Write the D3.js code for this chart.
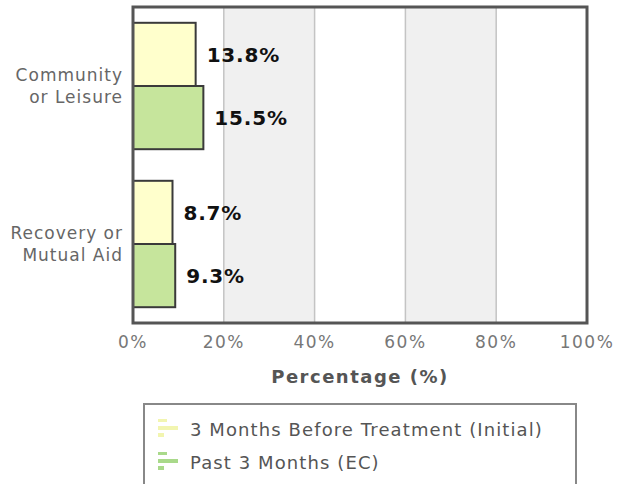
<!DOCTYPE html>
<html><head><meta charset="utf-8">
<script src="https://cdn.jsdelivr.net/npm/d3@7"></script>
<style>
html,body{margin:0;padding:0;background:#fff;}
svg{display:block;font-family:"DejaVu Sans",Verdana,sans-serif;}
</style></head>
<body><svg id="c" width="618" height="484"></svg>
<script>
const categories = [["Community","or Leisure"],["Recovery or","Mutual Aid"]];
const categoryKeys = ["Community or Leisure","Recovery or Mutual Aid"];
const seriesNames = ["3 Months Before Treatment (Initial)","Past 3 Months (EC)"];
const initialValues = [13.8, 8.7];
const ecValues = [15.5, 9.3];
const seriesColors = ["#ffffcc","#c6e59c"];
const iconColors = ["#f2f5b0","#a9d98a"];
const xTicks = [0,20,40,60,80,100];

const svg = d3.select("#c");
const m = {l:133, r:587, t:7, b:323};
const x = d3.scaleLinear().domain([0,100]).range([m.l, m.r]);
const y = d3.scaleBand().domain(categoryKeys).range([m.t, m.b]).paddingInner(0.2).paddingOuter(0.1);
const ySub = d3.scaleBand().domain([0,1]).range([0, y.bandwidth()]);

// alternating bands
const bandPairs = d3.pairs(xTicks).filter((d,i)=>i%2===1);
svg.append("g").selectAll("rect").data(bandPairs).join("rect")
  .attr("x", d=>x(d[0])).attr("width", d=>x(d[1])-x(d[0]))
  .attr("y", m.t).attr("height", m.b-m.t).attr("fill","#f0f0f0");

// grid
svg.append("g").selectAll("line").data(xTicks.slice(1,-1)).join("line")
  .attr("x1", d=>x(d)).attr("x2", d=>x(d)).attr("y1", m.t).attr("y2", m.b)
  .attr("stroke","#c4c4c4").attr("stroke-width",1.5);

// bars
const rows = [];
categoryKeys.forEach((c,i)=>{
  rows.push({c, s:0, v:initialValues[i]});
  rows.push({c, s:1, v:ecValues[i]});
});
svg.append("g").selectAll("rect").data(rows).join("rect")
  .attr("x", x(0)).attr("y", d=>y(d.c)+ySub(d.s))
  .attr("width", d=>x(d.v)-x(0)).attr("height", ySub.bandwidth())
  .attr("fill", d=>seriesColors[d.s]).attr("stroke","#3a3a3a").attr("stroke-width",2);

svg.append("g").selectAll("text").data(rows).join("text")
  .attr("x", d=>x(d.v)+11).attr("y", d=>y(d.c)+ySub(d.s)+ySub.bandwidth()/2)
  .attr("dy","0.36em").attr("font-size",20).attr("font-weight","bold").attr("fill","#111")
  .attr("letter-spacing",0.8)
  .text(d=>d.v.toFixed(1)+"%");

// frame
svg.append("rect").attr("x",m.l).attr("y",m.t).attr("width",m.r-m.l).attr("height",m.b-m.t)
  .attr("fill","none").attr("stroke","#555").attr("stroke-width",3);

// y labels
const yl = svg.append("g").selectAll("text").data(categoryKeys).join("text")
  .attr("x", 122).attr("y", d=>y(d)+y.bandwidth()/2).attr("text-anchor","end")
  .attr("font-size",17).attr("fill","#666").attr("letter-spacing",1);
yl.each(function(d,i){
  const t = d3.select(this);
  categories[i].forEach((ln,j)=>{
    t.append("tspan").attr("x",123).attr("dy", j===0 ? "-0.3em" : "1.3em").text(ln);
  });
});

// x axis tick labels
svg.append("g").selectAll("text").data(xTicks).join("text")
  .attr("x", d=>x(d)).attr("y", 348).attr("text-anchor","middle")
  .attr("font-size",17).attr("fill","#777").attr("letter-spacing",1.5).text(d=>d+"%");

svg.append("text").attr("x",(m.l+m.r)/2).attr("y",383).attr("text-anchor","middle")
  .attr("font-size",18).attr("font-weight","bold").attr("fill","#555").attr("letter-spacing",1.5)
  .text("Percentage (%)");

// legend
const lg = svg.append("g");
lg.append("rect").attr("x",144).attr("y",404).attr("width",432).attr("height",100)
  .attr("fill","#fff").attr("stroke","#888").attr("stroke-width",2);
const li = lg.selectAll("g").data(seriesNames).join("g")
  .attr("transform",(d,i)=>`translate(0,${430+i*33})`);
li.each(function(d,i){
  const g = d3.select(this);
  const c = iconColors[i];
  g.append("rect").attr("x",158).attr("y",-11).attr("width",9).attr("height",3).attr("fill",c);
  g.append("rect").attr("x",158).attr("y",-4).attr("width",20).attr("height",4).attr("fill",c);
  g.append("rect").attr("x",158).attr("y",3).attr("width",6).attr("height",4).attr("fill",c);
});
li.append("text").attr("x",190).attr("dy","0.36em").attr("font-size",18).attr("fill","#555")
  .attr("letter-spacing",1.1).text(d=>d);
</script></body></html>
